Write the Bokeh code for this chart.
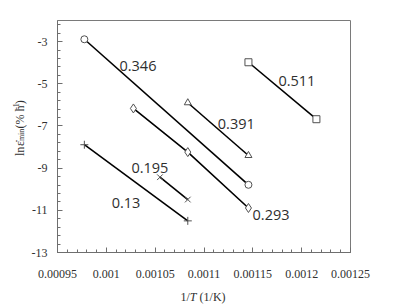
import numpy as np
from bokeh.plotting import figure
from bokeh.models import Label, FixedTicker, Range1d
from bokeh.layouts import row, column
from bokeh.embed import file_html
from bokeh.resources import INLINE

# ---- data (1/T in 1/K, ln of minimum creep rate) ----
x_346 = [0.0009775, 0.0011455]
y_346 = [-2.89, -9.79]
x_293 = [0.0010277, 0.0010834, 0.0011455]
y_293 = [-6.17, -8.24, -10.89]
x_391 = [0.0010834, 0.0011455]
y_391 = [-5.90, -8.40]
x_511 = [0.0011455, 0.0012151]
y_511 = [-3.98, -6.68]
x_195 = [0.0010549, 0.0010834]
y_195 = [-9.43, -10.49]
x_13 = [0.0009775, 0.0010834]
y_13 = [-7.89, -11.50]

stress_labels = ["0.346", "0.511", "0.391", "0.195", "0.13", "0.293"]
x_ticks = [0.00095, 0.001, 0.00105, 0.0011, 0.00115, 0.0012, 0.00125]
x_tick_labels = ["0.00095", "0.001", "0.00105", "0.0011", "0.00115", "0.0012", "0.00125"]
y_ticks = [-13, -11, -9, -7, -5, -3]
y_tick_labels = ["-13", "-11", "-9", "-7", "-5", "-3"]

# ---- layout (pixels) ----
W, H = 397, 308
LW = 28              # width of the strip holding the y title
MH = 286             # height of main figure
FL, FR, FT, FB = 55, 350, 20, 252
X0, X1 = 0.00095, 0.00125
Y0, Y1 = -13, -2

def dx(px):
    return X0 + (px - FL) / (FR - FL) * (X1 - X0)

def dy(py):
    return Y0 + (FB - py) / (FB - FT) * (Y1 - Y0)

p = figure(width=W - LW, height=MH, output_backend="svg", toolbar_location=None,
           x_range=Range1d(X0, X1), y_range=Range1d(Y0, Y1),
           min_border_left=FL - LW, min_border_right=W - FR,
           min_border_top=FT, min_border_bottom=MH - FB)
p.grid.visible = False
p.outline_line_color = "#7a7a7a"
p.outline_line_width = 1
p.background_fill_color = "white"
p.border_fill_color = "white"

x_minor = [round(X0 + i * 0.00001, 6) for i in range(31)]
y_minor = [round(Y0 + i * 0.4, 2) for i in range(28)]
p.xaxis.ticker = FixedTicker(ticks=x_ticks, minor_ticks=x_minor)
p.yaxis.ticker = FixedTicker(ticks=y_ticks, minor_ticks=y_minor)
p.xaxis.major_label_overrides = {t: l for t, l in zip(x_ticks, x_tick_labels)}
p.yaxis.major_label_overrides = {t: l for t, l in zip(y_ticks, y_tick_labels)}

for ax in (p.xaxis[0], p.yaxis[0]):
    ax.axis_line_color = "#6e6e6e"
    ax.major_tick_line_color = "#6e6e6e"
    ax.minor_tick_line_color = "#6e6e6e"
    ax.major_tick_in = 5
    ax.major_tick_out = 0
    ax.minor_tick_in = 3
    ax.minor_tick_out = 0
    ax.major_label_text_font = "Liberation Serif"
    ax.major_label_text_font_size = "12px"
    ax.major_label_text_color = "#303030"
p.xaxis.major_label_standoff = 17
p.yaxis.major_label_standoff = 10

LC = "black"
MC = "#505050"
series = [
    (x_346, y_346, "circle"),
    (x_293, y_293, "diamond"),
    (x_391, y_391, "triangle"),
    (x_511, y_511, "square"),
    (x_195, y_195, "x"),
    (x_13, y_13, "cross"),
]
for xs, ys, mk in series:
    p.line(xs, ys, line_color=LC, line_width=1.6)
    if mk in ("x", "cross"):
        p.scatter(xs, ys, marker=mk, size=8, line_color=MC, line_width=1)
    else:
        size = 9 if mk == "diamond" else 7
        p.scatter(xs, ys, marker=mk, size=size, line_color=MC, fill_color="white", line_width=1)

# stress labels (pixel centres)
label_px = [(136, 65), (296, 80), (235, 123), (148, 167), (124, 202), (270, 214)]
for txt, (px, py) in zip(stress_labels, label_px):
    p.add_layout(Label(x=dx(px), y=dy(py), text=txt, text_align="center",
                       text_baseline="middle", text_font="Open Sans",
                       text_font_size="14.5px", text_color="#2e2e2e"))

def blank(w, h):
    f = figure(width=w, height=h, output_backend="svg", toolbar_location=None,
               x_range=Range1d(0, w), y_range=Range1d(0, h),
               x_axis_type=None, y_axis_type=None,
               min_border=0, min_border_left=0, min_border_right=0,
               min_border_top=0, min_border_bottom=0)
    f.grid.visible = False
    f.outline_line_color = None
    return f

# y-axis title strip: ln ε̇_min (% h^-1), rotated (reads bottom to top)
left = blank(LW, MH)
cx, cy = 19, MH - 167
ypart = [("ln", "12px", 0, 12.3), ("\u03b5\u0307", "12px", 0, 6.0),
         ("min", "8px", 2, 15.6), ("(% h", "12px", 0, 23.0),
         ("-1", "8px", -4, 7.0), (")", "12px", 0, 4)]
for txt, fs, off, w in ypart:
    left.add_layout(Label(x=cx + off, y=cy, text=txt, angle=np.pi / 2,
                          text_align="left", text_baseline="middle",
                          text_font="Liberation Serif", text_font_size=fs,
                          text_color="#303030"))
    cy += w

# x-axis title strip: 1/T (1/K)
BH = H - MH
bottom = blank(W, BH)
sx, sy = 180, BH - (296 - MH)
parts = [("1/", "normal", 9.3), ("T", "italic", 9.8), ("(1/K)", "normal", 26)]
for txt, style, w in parts:
    bottom.add_layout(Label(x=sx, y=sy, text=txt, text_align="left",
                            text_baseline="middle", text_font="Liberation Serif",
                            text_font_size="12px", text_font_style=style,
                            text_color="#303030"))
    sx += w

layout = column(row(left, p, spacing=0), bottom, spacing=0)
open("out.html", "w").write(file_html(layout, INLINE))
